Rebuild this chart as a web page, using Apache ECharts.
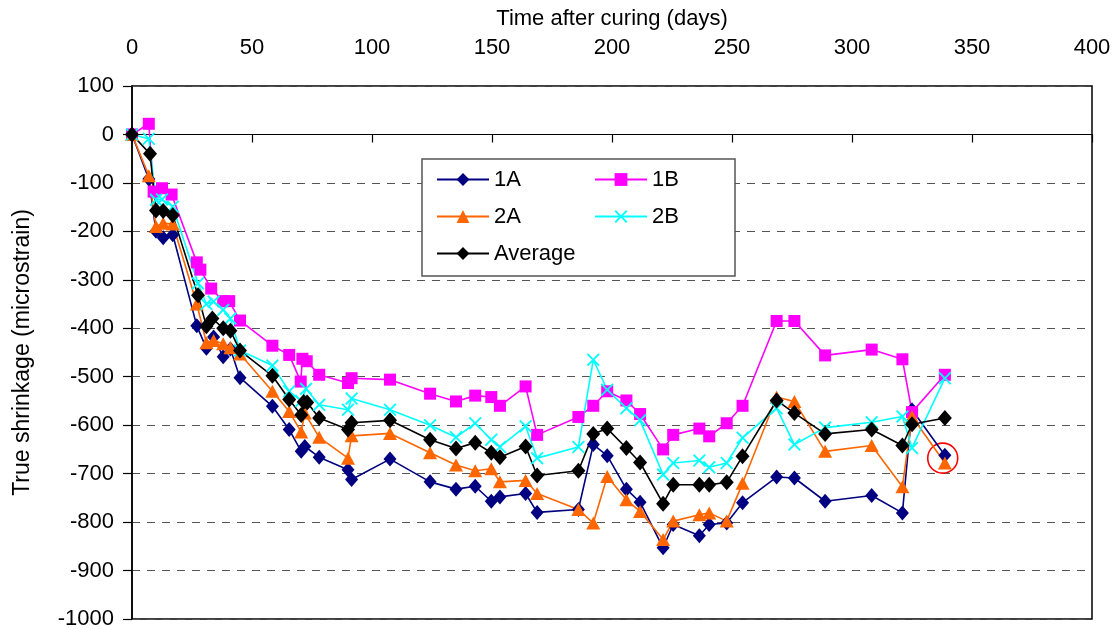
<!DOCTYPE html>
<html>
<head>
<meta charset="utf-8">
<script src="https://cdn.jsdelivr.net/npm/echarts@6/dist/echarts.min.js"></script>
<style>
  html, body { margin: 0; padding: 0; background: #ffffff; }
  #chart { width: 1119px; height: 630px; }
</style>
</head>
<body>
<div id="chart"></div>
<script>
// Shrinkage readings (microstrain) against days after curing, per specimen
const days1A = [0, 7, 10, 13, 17, 27, 31, 34, 38, 41, 45, 58.5, 65.5, 70.5, 72, 78, 90, 91.5, 107.5, 124.2,
  135, 143, 149.7, 153.3, 164, 168.8, 186, 192.2, 198, 206, 211.7, 221.3, 225.5, 236.4, 240.5, 247.8, 254.4,
  268.6, 276, 288.8, 308.2, 321, 325, 338.7];
const vals1A = [0, -92, -200, -213, -207, -395, -441, -418, -459, -443, -502, -561, -609, -654, -644, -666, -692, -712, -670, -717,
  -732, -726, -757, -748, -741, -780, -774, -640, -663, -732, -759, -853, -805, -828, -805, -802, -760,
  -707, -709, -757, -745, -781, -568, -662];

const days1B = [0, 7, 9, 12.5, 16.5, 27, 28.5, 33, 38, 40.5, 45, 58.5, 65.5, 70.3, 71, 72.8, 78, 90, 91.5, 107.5, 124.2,
  135, 143, 149.7, 153.3, 164, 168.8, 186, 192.2, 198, 206, 211.7, 221.3, 225.5, 236.4, 240.5, 247.8, 254.4,
  268.6, 276, 288.8, 308.2, 321, 325, 338.7];
const vals1B = [0, 22, -118, -111, -124, -264, -279, -318, -344, -344, -384, -436, -455, -510, -463, -468, -496, -513, -503, -506, -535,
  -551, -539, -542, -560, -520, -620, -583, -560, -530, -549, -577, -650, -620, -607, -623, -596, -560,
  -385, -385, -456, -444, -464, -573, -496];

const days2A = [0, 7, 10, 13, 17, 27, 31, 34, 38, 41, 45, 58.5, 65.5, 70.5, 72, 78, 90, 91.5, 107.5, 124.2,
  135, 143, 149.7, 153.3, 164, 168.8, 186, 192.2, 198, 206, 211.7, 221.3, 225.5, 236.4, 240.5, 247.8, 254.4,
  268.6, 276, 288.8, 308.2, 321, 325, 338.7];
const vals2A = [0, -85, -190, -183, -185, -350, -430, -425, -432, -440, -453, -530, -572, -614, -575, -625, -668, -622, -617, -657,
  -682, -694, -690, -717, -714, -741, -774, -802, -706, -754, -778, -836, -798, -785, -781, -798, -720,
  -542, -551, -654, -642, -727, -582, -678];

const days2B = [0, 7, 10, 12.5, 17, 27.5, 31, 34, 38, 41, 45, 58.5, 65.5, 70.5, 72.5, 78, 90, 91.5, 107.5, 124.2,
  135, 143, 149.7, 153.3, 164, 168.8, 186, 192.2, 198, 206, 211.7, 221.3, 225.5, 236.4, 240.5, 247.8, 254.4,
  268.6, 276, 288.8, 308.2, 321, 325, 338.7];
const vals2B = [0, -9, -135, -134, -149, -307, -350, -345, -362, -380, -446, -477, -530, -550, -525, -558, -568, -545, -568, -600,
  -625, -596, -630, -645, -602, -668, -645, -465, -527, -565, -590, -702, -678, -673, -687, -678, -626,
  -565, -640, -605, -594, -582, -647, -503];

const daysAvg = [0, 7.5, 10, 13, 17, 27.5, 31, 33.5, 38, 41, 45, 58.5, 65.5, 70.5, 71.5, 73, 78, 90, 91.5, 107.5, 124.2,
  135, 143, 149.7, 153.3, 164, 168.8, 186, 192.2, 198, 206, 211.7, 221.3, 225.5, 236.4, 240.5, 247.8, 254.4,
  268.6, 276, 288.8, 308.2, 321, 325, 338.7];
const valsAvg = [0, -40, -157, -158, -167, -332, -396, -380, -400, -405, -446, -498, -547, -579, -552, -553, -585, -609, -595, -590, -630,
  -648, -636, -657, -666, -644, -704, -694, -618, -607, -647, -677, -762, -723, -723, -723, -718, -664,
  -549, -575, -618, -609, -642, -598, -585];

// Last reading that is ringed in red
const circledPoint = [337.8, -668];

const FONT = "'Liberation Sans', Arial, sans-serif";
const pairs = (xs, ys) => xs.map((x, i) => [x, ys[i]]);
const crossPath = 'path://M0,1L1,0L5,4L9,0L10,1L6,5L10,9L9,10L5,6L1,10L0,9L4,5Z';

function lineSeries(name, xs, ys, color, symbol, size, extra) {
  return Object.assign({
    name: name,
    type: 'line',
    data: pairs(xs, ys),
    symbol: symbol,
    symbolSize: size,
    showAllSymbol: true,
    lineStyle: { color: color, width: 1.6 },
    itemStyle: { color: color },
    emphasis: { disabled: true },
    z: 5
  }, extra || {});
}

const chart = echarts.init(document.getElementById('chart'), null, { renderer: 'canvas' });

const legendCommon = {
  orient: 'vertical',
  top: 163,
  itemWidth: 52,
  itemHeight: 16,
  itemGap: 14,
  textStyle: { fontFamily: FONT, fontSize: 22, color: '#000', lineHeight: 23 },
  selectedMode: false,
  z: 6
};

chart.setOption({
  animation: false,
  backgroundColor: '#ffffff',
  grid: {
    left: 132, right: 27, top: 86, bottom: 11,
    show: true, borderColor: '#000', borderWidth: 1.5, backgroundColor: 'transparent'
  },
  xAxis: [
    {
      type: 'value', min: 0, max: 400, interval: 50,
      position: 'bottom',
      axisLine: { show: true, onZero: true, lineStyle: { color: '#000', width: 1.2 } },
      axisTick: { show: true, inside: false, length: 8, lineStyle: { color: '#000', width: 1.2 } },
      axisLabel: { show: false },
      splitLine: { show: false }
    },
    {
      type: 'value', min: 0, max: 400, interval: 50,
      position: 'top',
      name: 'Time after curing (days)',
      nameLocation: 'middle',
      nameGap: 56,
      nameTextStyle: { fontFamily: FONT, fontSize: 22, color: '#000' },
      axisLine: { show: false, onZero: false },
      axisTick: { show: false },
      axisLabel: { show: true, margin: 27, fontFamily: FONT, fontSize: 22, color: '#000' },
      splitLine: { show: false }
    }
  ],
  yAxis: {
    type: 'value', min: -1000, max: 100, interval: 100,
    name: 'True shrinkage (microstrain)',
    nameLocation: 'middle',
    nameGap: 98,
    nameTextStyle: { fontFamily: FONT, fontSize: 23, color: '#000' },
    axisLine: { show: true, onZero: false, lineStyle: { color: '#000', width: 1.5 } },
    axisTick: { show: true, inside: false, length: 9, lineStyle: { color: '#000', width: 1.2 } },
    axisLabel: {
      margin: 18, fontFamily: FONT, fontSize: 22, color: '#000',
      formatter: (v) => String(v)
    },
    splitLine: { show: true, lineStyle: { color: '#555', width: 1, type: [8, 7] } }
  },
  legend: [
    Object.assign({ left: 431, data: ['1A', '2A', 'Average'] }, legendCommon),
    Object.assign({ left: 589, data: ['1B', '2B'] }, legendCommon)
  ],
  graphic: [
    {
      type: 'rect',
      z: 3,
      shape: { x: 422, y: 159, width: 313, height: 117 },
      style: { fill: '#ffffff', stroke: '#555', lineWidth: 1.5 }
    }
  ],
  series: [
    lineSeries('1A', days1A, vals1A, '#000080', 'diamond', [13, 15], {
      markPoint: {
        symbol: 'circle',
        symbolSize: 30,
        silent: true,
        itemStyle: { color: 'rgba(0,0,0,0)', borderColor: '#ff0000', borderWidth: 1.6 },
        label: { show: false },
        data: [{ coord: circledPoint }]
      }
    }),
    lineSeries('1B', days1B, vals1B, '#ff00ff', 'rect', 12),
    lineSeries('2A', days2A, vals2A, '#ff6600', 'triangle', [14, 13]),
    lineSeries('2B', days2B, vals2B, '#00ffff', crossPath, 13),
    lineSeries('Average', daysAvg, valsAvg, '#000000', 'diamond', [14, 16])
  ]
});
</script>
</body>
</html>
